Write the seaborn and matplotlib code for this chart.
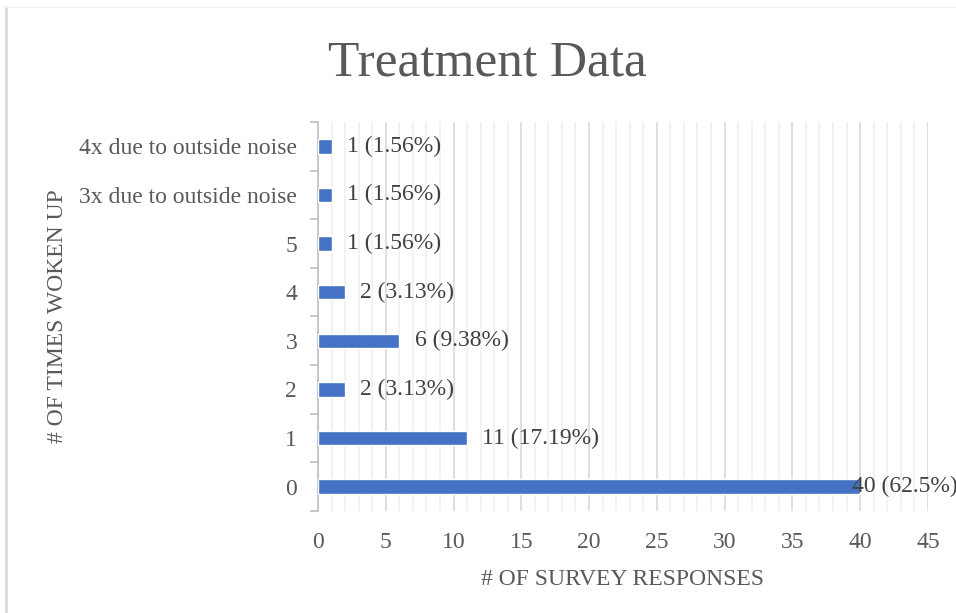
import matplotlib
matplotlib.use("Agg")
import matplotlib.pyplot as plt
from matplotlib.lines import Line2D
from matplotlib.ticker import MultipleLocator, FixedLocator
import seaborn as sns
import pandas as pd

# Survey data: how many times respondents woke up
categories = ["4x due to outside noise", "3x due to outside noise", "5", "4", "3", "2", "1", "0"]
responses = [1, 1, 1, 2, 6, 2, 11, 40]
percents = ["1.56", "1.56", "1.56", "3.13", "9.38", "3.13", "17.19", "62.5"]
x_ticks = [0, 5, 10, 15, 20, 25, 30, 35, 40, 45]

df = pd.DataFrame({"category": categories, "responses": responses})

sns.set_style("white")
plt.rcParams["font.family"] = ["Liberation Serif", "DejaVu Serif"]

text_gray = "#595959"
bar_blue = "#4472C4"
fs = 17

fig = plt.figure(figsize=(9.56, 6.13), dpi=100)
ax = fig.add_axes([0.3326, 0.1664, 0.638, 0.6346])

sns.barplot(data=df, x="responses", y="category", order=categories,
            color=bar_blue, saturation=1, width=0.3, ax=ax, zorder=3)

ax.set_xlim(0, 45)
ax.set_ylim(len(categories) - 0.5, -0.5)

# Gridlines: major every 5, faint minor every 1
ax.xaxis.set_major_locator(FixedLocator(x_ticks))
ax.xaxis.set_minor_locator(MultipleLocator(1))
ax.grid(True, axis="x", which="minor", color="#f0f0f0", linewidth=1.2, zorder=0)
ax.grid(True, axis="x", which="major", color="#d9d9d9", linewidth=1.2, zorder=1)
ax.set_axisbelow(True)

# Category boundary ticks on the left axis
ax.yaxis.set_minor_locator(FixedLocator([i - 0.5 for i in range(len(categories) + 1)]))
ax.tick_params(axis="y", which="major", length=0, pad=15, labelsize=fs, labelcolor=text_gray)
ax.tick_params(axis="y", which="minor", length=6, width=1.2, color="#bfbfbf", direction="out", left=True)
ax.tick_params(axis="x", which="both", length=0, pad=15, labelsize=fs, labelcolor=text_gray)

for side in ["top", "right", "bottom"]:
    ax.spines[side].set_visible(False)
ax.spines["left"].set_color("#bfbfbf")
ax.spines["left"].set_linewidth(1.2)

ax.set_xlabel("# OF SURVEY RESPONSES", fontsize=fs, color=text_gray, labelpad=12)
ax.set_ylabel("# OF TIMES WOKEN UP", fontsize=fs, color=text_gray, labelpad=8)

# Value labels: count and share of responses
for i, (v, p) in enumerate(zip(responses, percents)):
    offset = 11 if v < 40 else -6
    ax.annotate(f"{v} ({p}%)", xy=(v, i), xytext=(offset, 0), textcoords="offset points",
                ha="left", va="center", fontsize=fs, color="#404040",
                annotation_clip=False, zorder=5)

fig.text(0.51, 0.897, "Treatment Data", ha="center", va="center",
         fontsize=37, color=text_gray)

# Chart area border
fig.add_artist(Line2D([0.006, 0.006], [0, 0.989], transform=fig.transFigure,
                      color="#d9d9d9", linewidth=2))
fig.add_artist(Line2D([0.006, 1], [0.989, 0.989], transform=fig.transFigure,
                      color="#f2f2f2", linewidth=1))

fig.savefig("out.png", dpi=100)
